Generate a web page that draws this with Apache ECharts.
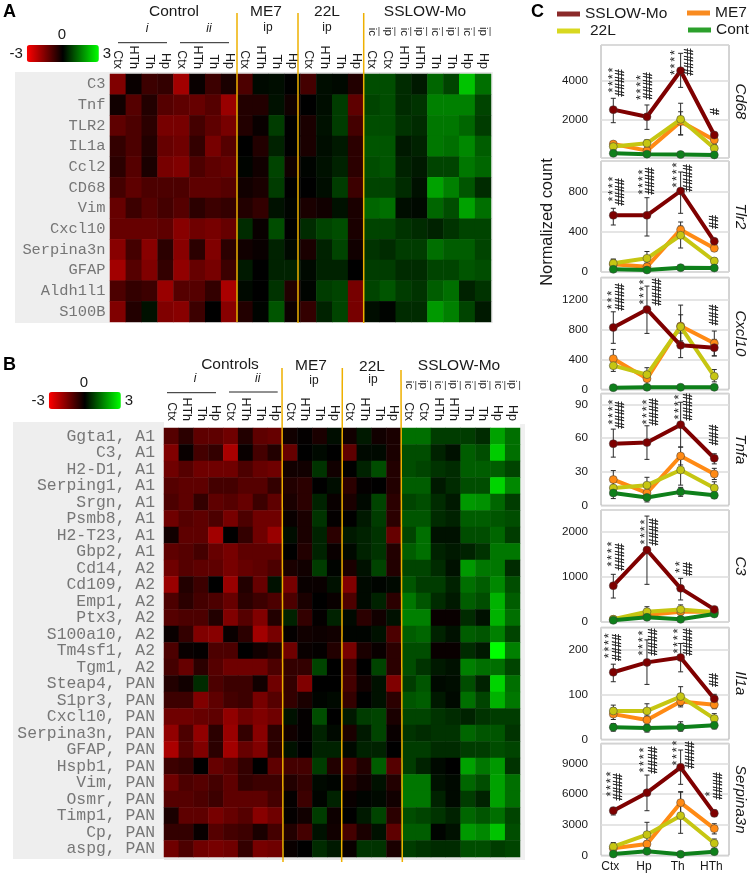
<!DOCTYPE html>
<html><head><meta charset="utf-8"><style>html,body{margin:0;padding:0;background:#fff}#c{width:756px;height:875px}</style>
<script src="https://cdn.jsdelivr.net/npm/echarts@6/dist/echarts.min.js"></script></head>
<body><div id="c"></div>
<script>
// ---------- DATA ----------
const colsTop = ['Ctx','HTh','Th','Hp','Ctx','HTh','Th','Hp','Ctx','HTh','Th','Hp','Ctx','HTh','Th','Hp','Ctx','Ctx','HTh','HTh','Th','Th','Hp','Hp'];
const routes = ['','','','','','','','','','','','','','','','','ic','ip','ic','ip','ic','ip','ic','ip'];
const rowsA = ['C3','Tnf','TLR2','IL1a','Ccl2','CD68','Vim','Cxcl10','Serpina3n','GFAP','Aldh1l1','S100B'];
const heatA = [
[-1.5,-.1,-.7,-.6,-1.9,-.1,-.7,-.3, -.9,.1,.15,0, -.8,.15,.1,-.4, .9,.9,.5,.3,1.2,.8,2.3,1.3],
[-.2,-1,-.4,-1,-1.1,-1.2,-1,-1.8, -.4,-.4,.2,-.2, 0,.15,.7,-1.1, .8,.9,.5,.6,1.5,1.5,1.5,.8],
[-1.1,-.9,-.5,-1.4,-1.4,-.8,-1.1,-1.4, -.4,-.1,.7,0, -.3,.2,.7,-.8, .9,.9,.6,.5,1.4,1.4,1.2,.7],
[-.6,-.9,-.4,-1.2,-1.3,-.6,-1.4,-1, 0,-.4,.4,0, -.3,.15,.3,-.5, 1,1,.3,.4,1.4,1.3,1.6,1.1],
[-.5,-1,-.3,-1.4,-1.5,-.9,-1.1,-1.2, .05,-.2,.8,-.2, .05,.2,.4,-.5, .9,1,.4,.3,.8,.8,1.4,1.2],
[-.8,-1.1,-.9,-.9,-.9,-1.1,-1.1,-1, -.2,-.3,.7,0, 0,.15,.7,-.7, .8,.8,.5,.2,1.9,1.5,1,.5],
[-1.2,-.7,-1,-.8,-1,-.5,-.7,-.6, -.4,-.6,.2,.05, -.3,-.2,.2,-.3, 1.2,1.3,.15,.1,1.2,.9,1.9,1.3],
[-1.2,-1.2,-1.2,-1.1,-1.6,-1.3,-1.4,-1.2, .5,-.1,.9,0, .5,.8,.9,-.3, .8,.8,.6,.5,.4,.6,.8,.8],
[-1.6,-.8,-1.6,-.5,-1.6,-.5,-1.5,-.5, -.2,-.1,.4,.1, -.3,.4,.8,-.2, .6,.5,.7,.7,1.3,1.1,1.1,.8],
[-1.9,-1,-1.5,-.6,-1.7,-1.2,-1.4,-.7, .3,0,.4,.4, .1,.4,.4,0, .7,.7,.5,.5,.8,.8,1,.9],
[-.9,-.6,-.7,-1.8,-1,-1,-.6,-2, .1,0,.6,-.4, .05,.7,.8,-1.4, .8,1,.7,.6,1.1,1.3,.4,.6],
[-1.5,-.4,.2,-1.5,-1.6,-.7,0,-1.6, -.4,.05,1,-.15, -.6,.4,.8,-1.4, .15,.05,.5,.5,1.8,1.5,.8,.3]
];
const rowsB = ['Ggta1, A1','C3, A1','H2-D1, A1','Serping1, A1','Srgn, A1','Psmb8, A1','H2-T23, A1','Gbp2, A1','Cd14, A2','Cd109, A2','Emp1, A2','Ptx3, A2','S100a10, A2','Tm4sf1, A2','Tgm1, A2','Steap4, PAN','S1pr3, PAN','Cxcl10, PAN','Serpina3n, PAN','GFAP, PAN','Hspb1, PAN','Vim, PAN','Osmr, PAN','Timp1, PAN','Cp, PAN','aspg, PAN'];
const heatB = [
[-1,-.5,-1.1,-1.1,-1.3,-.4,-1.1,-1.2, -.2,-.05,-.3,.15, -.2,.3,-.2,-.3, 1.3,1.3,.7,.7,.7,.5,1.9,1.3],
[-1.5,-.1,-.8,-.6,-2,-.1,-.8,-.4, -1.2,0,.1,0, -1.1,.1,.1,-.3, .9,.9,.4,.2,1.1,.9,2.4,1.3],
[-1.3,-1,-1.3,-1.3,-1.3,-.9,-1.2,-1.3, -.2,-.2,.6,-.2, 0,.4,.9,-.4, .9,.8,.6,.5,1.1,1.1,1.1,.8],
[-1,-1.1,-1.1,-.8,-.8,-1,-1,-.6, -.4,-.5,0,.15, -.5,-.05,0,-.4, 1.1,1.1,.3,.5,.9,.9,2.5,1.6],
[-.9,-1.1,-.6,-1.1,-1,-1.2,-.7,-1.1, -.3,-.5,.4,-.1, -.3,.1,.8,-.5, .8,.9,.5,.3,1.8,1.7,1.2,.7],
[-1.3,-1,-1.1,-.9,-1.4,-.9,-1.3,-1.3, -.1,-.3,.6,-.05, 0,.3,.7,-.5, 1,1,.5,.4,1.1,1.1,1,.9],
[-.2,-1.1,-1.1,-1.9,0,-.6,-1.3,-1.8, .15,-.3,.4,-.5, .3,.4,.6,-1.2, .8,1.3,.2,.2,.9,.9,1.2,.7],
[-1.1,-1,-.8,-1.2,-1.4,-1.1,-1.1,-1.1, 0,-.4,.4,-.1, .1,.4,.6,-.4, 1.1,1.3,.4,.3,.4,.6,1.4,1.4],
[-1.3,-1,-1.1,-1.1,-1.4,-1.2,-1.1,-.9, -.3,-.2,.7,.05, -.3,.2,.8,-.4, .8,.8,.5,.2,1.8,1.4,1.4,.5],
[-1.8,-.4,-.7,0,-1.8,-.4,-1.2,.2, -1.4,-.1,-.1,.2, -1.5,.1,.05,.1, 1,.7,.7,.4,1.3,1.1,1.6,.9],
[-.9,-.5,-.8,-.9,-1.2,-.5,-.7,-.9, -.9,-.3,0,-.1, -.9,.1,.4,-.5, 1.4,1,.5,.3,1.1,.9,2.1,1.1],
[-1,-.9,-.9,-.4,-1.5,-1,-1.5,-.4, .4,-.6,-.05,.4, .1,-.5,-.2,.2, 1.5,1.5,-.1,-.1,.5,.2,2.1,1.3],
[-.1,-.6,-1.5,-1.6,-.1,-.5,-1.9,-1.4, -.05,-.2,-.15,-.2, .05,.05,.2,-.9, 1.1,1.2,.4,.2,1.1,1,1.5,.8],
[-.9,-.1,-.05,-.9,-.9,0,-.2,-.4, -1.3,-.1,-.05,-.4, -1.4,-.3,-.1,-.5, .9,.9,-.1,-.1,.5,.3,3,1.5],
[-.8,-1.2,-.5,-1,-1.3,-1.3,-1.3,-.9, -.6,-.6,.8,0, -.7,0,.8,-.5, .9,.6,.3,.2,1.5,1.3,1.3,.8],
[-.4,-.2,.5,-.9,-.7,-.7,-.2,-1.3, -.6,-1.5,0,0, -.8,-.2,.2,-1.5, .7,1,.1,.15,.9,.4,2.5,1.3],
[-.7,-.7,-1.5,-1.1,-.8,-.7,-1.4,-1, -.6,-.3,.05,.1, -.6,0,.2,-.5, 1,1.1,.3,.1,1.3,.8,2.1,1.4],
[-1.3,-1.3,-1.2,-1.1,-1.7,-1.3,-1.5,-1.3, .2,-.05,.9,0, .3,.7,.8,-.3, .8,.8,.6,.5,.4,.6,.7,.7],
[-1.7,-.9,-1.7,-.5,-1.8,-.6,-1.6,-.5, -.2,-.05,.4,.1, -.3,.3,.8,-.1, .6,.5,.6,.6,1.2,1,1,.6],
[-2,-1,-1.5,-.5,-1.9,-1.2,-1.5,-.5, .2,0,.4,.4, .1,.4,.4,0, .7,.7,.5,.5,.7,.7,.9,.8],
[-.7,-.6,0,-1.2,-1,-.6,0,-1.1, -.8,-.8,.7,-.4, -.8,-.4,1.1,-1, .7,.4,.1,0,1.9,1.4,1.8,.6],
[-1.3,-.9,-1,-.8,-1.1,-.6,-.7,-.7, -.4,-.6,.1,.05, -.4,-.2,.2,-.4, 1.4,1.4,.2,.1,1.2,.9,1.9,1.3],
[-1,-1,-.9,-.7,-1.1,-1.1,-1.1,-.8, -.05,-.7,.05,.4, -.1,.05,.1,-.2, 1.4,1.4,.4,.1,.7,.4,1.9,1.3],
[-.3,-1.1,-1.1,-1.4,-1.2,-1,-1.6,-1.3, -.05,-.2,.7,-.15, 0,.3,.8,-.5, .9,.8,.6,.4,1.2,1,1.3,.8],
[-.6,-.6,-.1,-1,-.8,-.7,-.3,-.8, -.4,-.8,.2,-.2, -.8,-.3,.2,-1.1, 1.1,1.1,.05,.2,1.8,1.6,2.3,.9],
[-1.3,-.9,-1.3,-1.4,-1.3,-.6,-1.4,-1.3, -.1,0,.5,.3, -.1,.6,.6,-.3, .7,.6,.5,.5,.9,.9,.7,.8]
];
const regions = ['Ctx','Hp','Th','HTh'];
const groups = ['ME7','22L','Cont','SSLOW-Mo'];
const genes = ['Cd68','Tlr2','Cxcl10','Tnfa','C3','Il1a','Serpina3n'];
// rows follow "groups": mean, low, high at Ctx, Hp, Th, HTh
const cd68Mean = [[720,380,1880,930],[590,760,2000,500],[240,200,180,160],[2500,2130,4510,1190]];
const cd68Low  = [[600,230,1190,780],[440,580,1200,300],[190,150,130,110],[1825,1480,3650,1000]];
const cd68High = [[840,530,2390,1080],[740,940,2830,700],[290,250,230,210],[3085,2740,5410,1300]];
const tlr2Mean = [[77,53,423,237],[87,137,367,110],[27,20,43,40],[567,567,810,307]];
const tlr2Low  = [[50,30,350,210],[50,80,240,80],[15,8,30,28],[470,360,587,280]];
const tlr2High = [[130,90,500,270],[125,205,460,140],[40,32,56,52],[637,743,1000,330]];
const cxcl10Mean = [[411,143,849,617],[317,197,840,175],[22,27,27,27],[830,1072,590,559]];
const cxcl10Low  = [[290,50,570,450],[240,110,650,100],[10,15,15,15],[617,750,425,447]];
const cxcl10High = [[535,240,1130,782],[395,290,1000,265],[34,39,39,39],[1040,1385,755,670]];
const tnfaMean = [[23,11,44,28],[15.5,18,31.5,15.5],[11,7,12,9],[55,56,72,42]];
const tnfaLow  = [[16,6,36,23],[9,12,18,10],[6,3,8,6],[43,41,52,37]];
const tnfaHigh = [[31,18,52,33],[22,25,45,21],[16,10,16,12],[68,71,92,46]];
const c3Mean = [[60,155,230,230],[60,230,280,215],[37,104,60,178],[807,1600,748,280]];
const c3Low  = [[10,105,180,180],[30,130,190,170],[20,60,40,130],[533,837,490,240]];
const c3High = [[110,205,280,280],[90,340,380,260],[55,150,80,220],[1060,2355,970,320]];
const il1aMean = [[56,43,84,77],[63,63,95,46],[27,25,27,31],[149,171,182,90]];
const il1aLow  = [[44,37,72,68],[52,52,75,36],[18,16,18,23],[128,122,150,80]];
const il1aHigh = [[70,50,96,86],[76,79,117,57],[35,33,39,40],[167,221,213,100]];
const serpinaMean = [[690,1110,5170,2620],[850,2030,3890,1180],[130,390,100,360],[4380,6150,8640,4120]];
const serpinaLow  = [[500,800,4100,2100],[450,800,2160,700],[30,200,20,200],[3960,4380,6970,3800]];
const serpinaHigh = [[900,1400,6200,3100],[1250,3240,6250,1600],[230,580,180,520],[4710,7880,10340,4450]];

const axisMax = [5840,1110,1503,100,2490,249,11000];
const axisStep = [2000,400,400,30,1000,100,3000];
const panelTop = [45,161,277.3,393.3,510,627.3,743.3];
const panelHeight = [113,111,112,112,112,112,112];
const hideZero = [true,false,false,false,false,false,false];
const allMean = [cd68Mean,tlr2Mean,cxcl10Mean,tnfaMean,c3Mean,il1aMean,serpinaMean];
const allLow = [cd68Low,tlr2Low,cxcl10Low,tnfaLow,c3Low,il1aLow,serpinaLow];
const allHigh = [cd68High,tlr2High,cxcl10High,tnfaHigh,c3High,il1aHigh,serpinaHigh];
// significance annotations: text, x, y (page pixels)
const notes = [
['****',611,80],['####',621,83],['****',639.3,87.5],['####',649,86],['****',673.3,62.5],['####',690,62],['#',715.7,111.7],
['****',611,189],['####',621,192],['****',641.3,182],['####',651,181],['****',675,175],['####',688.3,178],['##',715,222],
['***',610.7,300],['####',620.7,297],['****',642,292],['####',657.3,292],['###',714.3,315],
['****',611,412],['####',621,415],['****',645,412],['####',654.3,412],['****',677.3,407],['####',688.3,407],['###',715,435],
['****',610.7,554],['####',620.7,557],['****',643.3,532],['####',655,532],['**',678.3,567],['##',688.3,569],
['****',607.7,645.7],['####',617.3,647.5],['****',641.3,643],['####',654,642],['****',676,641],['####',689,642],['##',715,680],
['****',609,784],['####',619,787],['****',642.3,760],['####',653.3,760],['****',675,753],['####',691,755],['*',708.3,794],['####',718.3,786]
];

// ---------- STYLE ----------
const SANS = '"Liberation Sans", Arial, sans-serif';
const MONO = '"Liberation Mono", "Courier New", monospace';
const groupColor = {'ME7':'#ff8a14','22L':'#c6c612','Cont':'#0e801a','SSLOW-Mo':'#7f0000'};
const legendColor = {'ME7':'#f98b20','22L':'#d8d820','Cont':'#2ca02c','SSLOW-Mo':'#8b2a2a'};

function txt(text,x,y,size,opt){opt=opt||{};return {type:'text',x:x,y:y,rotation:opt.rot||0,z:opt.z||20,silent:true,
  style:{text:text,font:(opt.style||'')+' '+size+'px '+(opt.family||SANS),fill:opt.fill||'#1a1a1a',stroke:opt.stroke,lineWidth:opt.lw||0,textAlign:opt.align||'center',textVerticalAlign:'middle',verticalAlign:'middle'}};}
function line(x1,y1,x2,y2,color,w){return {type:'line',silent:true,z:15,shape:{x1:x1,y1:y1,x2:x2,y2:y2},style:{stroke:color,lineWidth:w}};}
function rect(x,y,w,h,color){return {type:'rect',silent:true,z:-1,shape:{x:x,y:y,width:w,height:h},style:{fill:color}};}

const option = {animation:false,backgroundColor:'#fff',grid:[],xAxis:[],yAxis:[],series:[],graphic:{elements:[]},
  visualMap:[],legend:[]};
const G = option.graphic.elements;

// heatmaps
function addHeat(idx,left,top,width,height,rows,matrix,labelMargin,monoSize,xMargin,routeOffset,labelPad){
  const g = option.grid.length;
  option.grid.push({left:left,top:top,width:width,height:height,containLabel:false});
  const x0 = option.xAxis.length;
  option.xAxis.push({gridIndex:g,type:'category',position:'top',data:colsTop,axisLine:{show:false},axisTick:{show:false},splitLine:{show:false},
    axisLabel:{rotate:90,interval:0,margin:xMargin,fontFamily:SANS,fontSize:12.5,color:'#1a1a1a',hideOverlap:false,padding:labelPad}});
  option.xAxis.push({gridIndex:g,type:'category',position:'top',offset:routeOffset,data:routes,axisLine:{show:false},axisTick:{show:false},splitLine:{show:false},
    axisLabel:{rotate:90,interval:0,margin:0,fontFamily:SANS,fontSize:11.5,color:'#1a1a1a',hideOverlap:false,padding:[5,0,0,0]}});
  const y0 = option.yAxis.length;
  option.yAxis.push({gridIndex:g,type:'category',inverse:true,data:rows,axisLine:{show:false},axisTick:{show:false},splitLine:{show:false},
    axisLabel:{interval:0,margin:labelMargin,fontFamily:MONO,fontSize:monoSize,color:'#767676',hideOverlap:false}});
  const data=[];matrix.forEach((r,ri)=>r.forEach((v,ci)=>data.push([ci,ri,v])));
  option.series.push({type:'heatmap',name:idx,xAxisIndex:x0,yAxisIndex:y0,data:data,progressive:0,itemStyle:{borderWidth:0},emphasis:{disabled:true}});
  return option.series.length-1;
}
const sA = addHeat('A',110,74,381,248,rowsA,heatA,4.5,15.4,5,38,[5,0,0,0]);
const sB = addHeat('B',164,428,356,429,rowsB,heatB,9,16.4,7,39,[0,0,0,0]);
function addVM(s,left,top){option.visualMap.push({type:'continuous',seriesIndex:s,min:-3,max:3,orient:'horizontal',left:left,top:top,itemWidth:17,itemHeight:72,
  calculable:false,realtime:false,hoverLink:false,text:['3','-3'],textGap:4,textStyle:{fontFamily:SANS,fontSize:15,color:'#1a1a1a'},
  inRange:{color:['#ff0000','#000000','#00ff00']},padding:0});}
addVM(sA,9.5,45);addVM(sB,31.5,392);

// panel backgrounds
G.push(rect(15,72,95,251,'#eeeeee'),rect(491,72,2,251,'#eeeeee'),rect(110,72,381,2,'#e4e4e4'));
G.push(rect(13,422,151,437,'#eeeeee'),rect(164,857,360,3,'#e8e8e8'),rect(520,424,5,436,'#f0f0f0'));

// line panels
const frameLeft=601, frameWidth=128, pointLeft=613.3, pointWidth=101;
allMean.forEach((mean,p)=>{
  const top=panelTop[p],h=panelHeight[p];
  const fg=option.grid.length;
  option.grid.push({left:frameLeft,top:top,width:frameWidth,height:h,show:true,backgroundColor:'#fff',borderColor:'#a8a8a8',borderWidth:1});
  option.xAxis.push({gridIndex:fg,type:'value',min:0,max:1,show:false});
  option.yAxis.push({gridIndex:fg,type:'value',min:0,max:axisMax[p],interval:axisStep[p],axisLine:{show:false},axisTick:{show:false},
    splitLine:{show:true,lineStyle:{color:'#dcdcdc',width:1.5}},
    axisLabel:{margin:13,fontFamily:SANS,fontSize:11.7,color:'#1a1a1a',showMaxLabel:false,showMinLabel:!hideZero[p],formatter:v=>String(v)}});
  const dg=option.grid.length;
  option.grid.push({left:pointLeft,top:top,width:pointWidth,height:h});
  const xi=option.xAxis.length,yi=option.yAxis.length;
  option.xAxis.push({gridIndex:dg,type:'category',boundaryGap:false,data:regions,axisLine:{show:false},axisTick:{show:false},
    axisLabel:{show:p===6,interval:0,margin:5,fontFamily:SANS,fontSize:12,color:'#1a1a1a',padding:[0,6,0,0],hideOverlap:false}});
  option.yAxis.push({gridIndex:dg,type:'value',min:0,max:axisMax[p],show:false,splitLine:{show:false}});
  // error bars
  groups.forEach((gname,gi)=>{
    const eb=allLow[p][gi].map((lo,i)=>[i,lo,allHigh[p][gi][i]]);
    option.series.push({type:'custom',name:gname+' error',xAxisIndex:xi,yAxisIndex:yi,data:eb,z:3,clip:false,silent:true,
      encode:{x:0,y:[1,2]},
      renderItem:function(params,api){
        const a=api.coord([api.value(0),api.value(1)]),b=api.coord([api.value(0),api.value(2)]);
        const st={stroke:'#2a2a2a',lineWidth:1,fill:null};
        return {type:'group',children:[
          {type:'line',shape:{x1:a[0],y1:a[1],x2:b[0],y2:b[1]},style:st},
          {type:'line',shape:{x1:a[0]-2.5,y1:a[1],x2:a[0]+2.5,y2:a[1]},style:st},
          {type:'line',shape:{x1:b[0]-2.5,y1:b[1],x2:b[0]+2.5,y2:b[1]},style:st}]};
      }});
  });
  groups.forEach((gname,gi)=>{
    option.series.push({type:'line',name:gname,xAxisIndex:xi,yAxisIndex:yi,data:mean[gi],z:4+gi,symbol:'circle',symbolSize:8,clip:false,showSymbol:true,
      lineStyle:{color:groupColor[gname],width:4},itemStyle:{color:groupColor[gname],borderColor:'rgba(60,60,60,.7)',borderWidth:.7},emphasis:{disabled:true}});
  });
  G.push(txt(genes[p],740,top+h/2,15,{style:'italic',rot:-Math.PI/2}));
});
notes.forEach(n=>{
  if(n[0][0]==='*'){
    const k=n[0].length;
    for(let i=0;i<k;i++) G.push(txt('*',n[1]+2,n[2]+(i-(k-1)/2)*6.7,13,{rot:Math.PI/2,fill:'#222'}));
  } else {
    G.push(txt(n[0],n[1],n[2],12.2,{rot:Math.PI/2,fill:'#111',stroke:'#111',lw:.3}));
  }
});
G.push(txt('Normalized count',547,222,16.4,{rot:Math.PI/2}));

// legends
[['SSLOW-Mo',557,6,0],['ME7',687,5,0],['22L',557,23,5],['Cont',688,22,0]].forEach(l=>{
  option.legend.push({show:true,selectedMode:false,left:l[1],top:l[2],padding:0,itemWidth:23,itemHeight:5,
    data:[{name:l[0],icon:'rect',itemStyle:{color:legendColor[l[0]],borderWidth:0}}],
    textStyle:{fontFamily:SANS,fontSize:15.5,color:'#1a1a1a',padding:[0,0,0,l[3]]}});
});

// titles and letters
G.push(txt('A',3,12,18,{style:'bold',align:'left',fill:'#000'}),txt('B',3,365,18,{style:'bold',align:'left',fill:'#000'}),txt('C',531,12,18,{style:'bold',align:'left',fill:'#000'}));
G.push(txt('0',62,35,15),txt('0',84,382.7,15));
G.push(txt('Control',174,12,15.5),txt('ME7',266,12,15.5),txt('22L',327,12,15.5),txt('SSLOW-Mo',425,12,15.5));
G.push(txt('i',147,29,12,{style:'italic'}),txt('ii',209,29,12,{style:'italic'}),txt('ip',268,28,12),txt('ip',327,28,12));
G.push(line(118,42.7,167,42.7,'#222',1),line(180,42.7,229,42.7,'#222',1));
G.push(txt('Controls',230,365,15.5),txt('ME7',311,366,15.5),txt('22L',372,367,15.5),txt('SSLOW-Mo',459,366,15.5));
G.push(txt('i',195,379,12,{style:'italic'}),txt('ii',257.7,379,12,{style:'italic'}),txt('ip',314,381,12),txt('ip',373,380,12));
G.push(line(167,392.7,216,392.7,'#222',1),line(229,392,277.7,392,'#222',1));
// underlines of route labels
for(let i=16;i<24;i++){
  const xa=110+(i+.5)*381/24+7; G.push(line(xa,27,xa,36,'#333',.8));
  const xb=164+(i+.5)*356/24+7; G.push(line(xb,381,xb,390,'#333',.8));
}
// orange separators
const sep='#eeb000';
G.push(line(237,13,237,322,sep,1.5),line(298,13,298,323,sep,1.5),line(363.7,13,363.7,323,sep,1.5));
G.push(line(282,368,283,862,sep,1.5),line(342.3,368,341.7,862,sep,1.5),line(401,370,402.3,862,sep,1.5));

echarts.init(document.getElementById('c')).setOption(option);
</script></body></html>
